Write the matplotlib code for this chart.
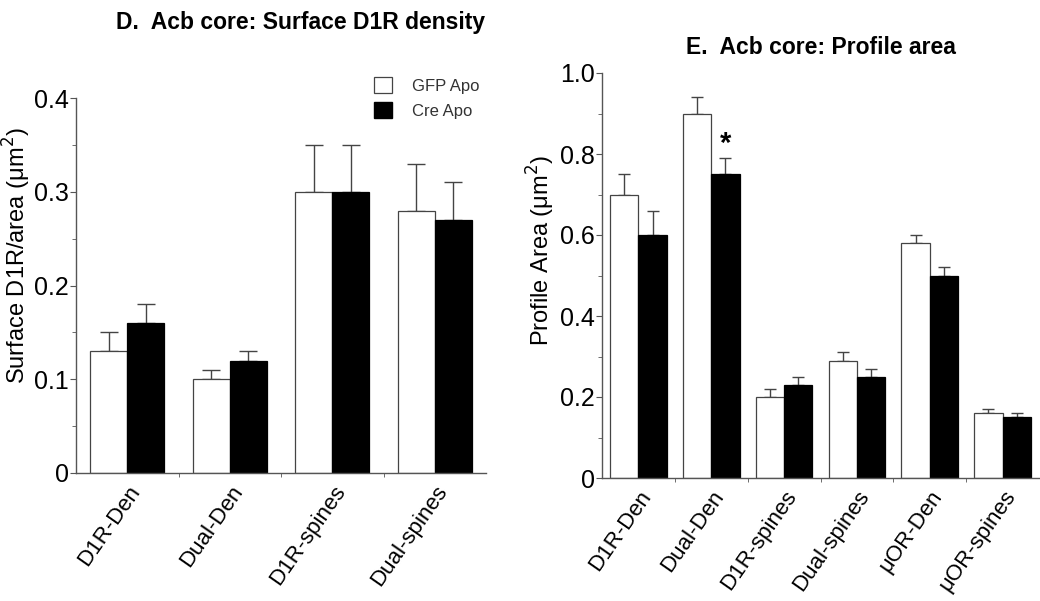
import matplotlib
matplotlib.use('Agg')
import matplotlib.pyplot as plt
from matplotlib.patches import Patch
import numpy as np

plt.rcParams['font.family'] = ['Liberation Sans', 'DejaVu Sans']

# Panel D data
d_groups = ['D1R-Den', 'Dual-Den', 'D1R-spines', 'Dual-spines']
d_gfp = [0.13, 0.10, 0.30, 0.28]
d_gfp_err = [0.02, 0.01, 0.05, 0.05]
d_cre = [0.16, 0.12, 0.30, 0.27]
d_cre_err = [0.02, 0.01, 0.05, 0.04]

# Panel E data
e_groups = ['D1R-Den', 'Dual-Den', 'D1R-spines', 'Dual-spines', 'μOR-Den', 'μOR-spines']
e_gfp = [0.70, 0.90, 0.20, 0.29, 0.58, 0.16]
e_gfp_err = [0.05, 0.04, 0.02, 0.02, 0.02, 0.01]
e_cre = [0.60, 0.75, 0.23, 0.25, 0.50, 0.15]
e_cre_err = [0.06, 0.04, 0.02, 0.02, 0.02, 0.01]

spine_col = '#555555'

fig = plt.figure(figsize=(10.4, 6.01), dpi=100)
axD = fig.add_axes([76/1040, 1-473/601, 410/1040, 375/601])
axE = fig.add_axes([602/1040, 1-478/601, 437/1040, 405/601])


def draw(ax, groups, gfp, gfp_err, cre, cre_err, w, cap, ymax, minor):
    x = np.arange(len(groups))
    z = np.zeros(len(groups))
    ax.bar(x - w/2, gfp, w, color='white', edgecolor='#444444', linewidth=0.9, zorder=2)
    ax.bar(x + w/2, cre, w, color='black', edgecolor='black', linewidth=0.9, zorder=2)
    ax.errorbar(x - w/2, gfp, yerr=[z, gfp_err], fmt='none', ecolor='#444444',
                elinewidth=1, capsize=cap, capthick=1, zorder=1)
    ax.errorbar(x + w/2, cre, yerr=[z, cre_err], fmt='none', ecolor='#444444',
                elinewidth=1, capsize=cap, capthick=1, zorder=1)
    ax.set_xlim(-0.5, len(groups) - 0.5)
    ax.set_ylim(0, ymax)
    ax.set_xticks(x)
    ax.set_xticklabels(groups, rotation=55, ha='right', rotation_mode='anchor', fontsize=16)
    ax.set_xticks(np.arange(len(groups) - 1) + 0.5, minor=True)
    ax.tick_params(axis='x', which='major', length=0, pad=6)
    ax.tick_params(axis='x', which='minor', length=3, color=spine_col)
    ax.set_yticks(np.arange(0, ymax + 1e-9, ymax / 4))
    ax.set_yticks(np.arange(0, ymax + 1e-9, minor), minor=True)
    ax.tick_params(axis='y', which='major', length=4, color=spine_col, labelsize=18, pad=1)
    ax.tick_params(axis='y', which='minor', length=3, color=spine_col)
    for s in ['top', 'right']:
        ax.spines[s].set_visible(False)
    for s in ['left', 'bottom']:
        ax.spines[s].set_color(spine_col)
        ax.spines[s].set_linewidth(1)


draw(axD, d_groups, d_gfp, d_gfp_err, d_cre, d_cre_err, 0.36, 6.5, 0.4, 0.05)
axD.set_yticklabels(['0', '0.1', '0.2', '0.3', '0.4'])
axD.set_ylabel('Surface D1R/area (μm$^2$)', fontsize=17)
axD.yaxis.set_label_coords(-0.105, 0.581)

draw(axE, e_groups, e_gfp, e_gfp_err, e_cre, e_cre_err, 0.39, 4.5, 1.0, 0.1)
axE.set_yticks([0, 0.2, 0.4, 0.6, 0.8, 1.0])
axE.set_yticklabels(['0', '0.2', '0.4', '0.6', '0.8', '1.0'])
axE.set_ylabel('Profile Area (μm$^2$)', fontsize=17)
axE.yaxis.set_label_coords(-0.103, 0.563)
axE.text(1 + 0.39/2, e_cre[1] + e_cre_err[1] + 0.0, '*', ha='center', va='bottom',
         fontsize=21, fontweight='bold')

fig.text(301/1040, 1-22/601, 'D.  Acb core: Surface D1R density', ha='center', va='center',
         fontsize=16.5, fontweight='bold')
fig.text(821/1040, 1-47/601, 'E.  Acb core: Profile area', ha='center', va='center',
         fontsize=16.5, fontweight='bold')

handles = [Patch(facecolor='white', edgecolor='#444444', linewidth=0.9),
           Patch(facecolor='black', edgecolor='black')]
fig.legend(handles, ['GFP Apo', 'Cre Apo'], loc='upper left',
           bbox_to_anchor=(374/1040, 1-77/601), bbox_transform=fig.transFigure,
           frameon=False, fontsize=12, handlelength=1.1, handleheight=1.1,
           labelspacing=0.5, handletextpad=1.2, borderpad=0, borderaxespad=0,
           labelcolor='#333333')

fig.savefig('out.png', dpi=100)
